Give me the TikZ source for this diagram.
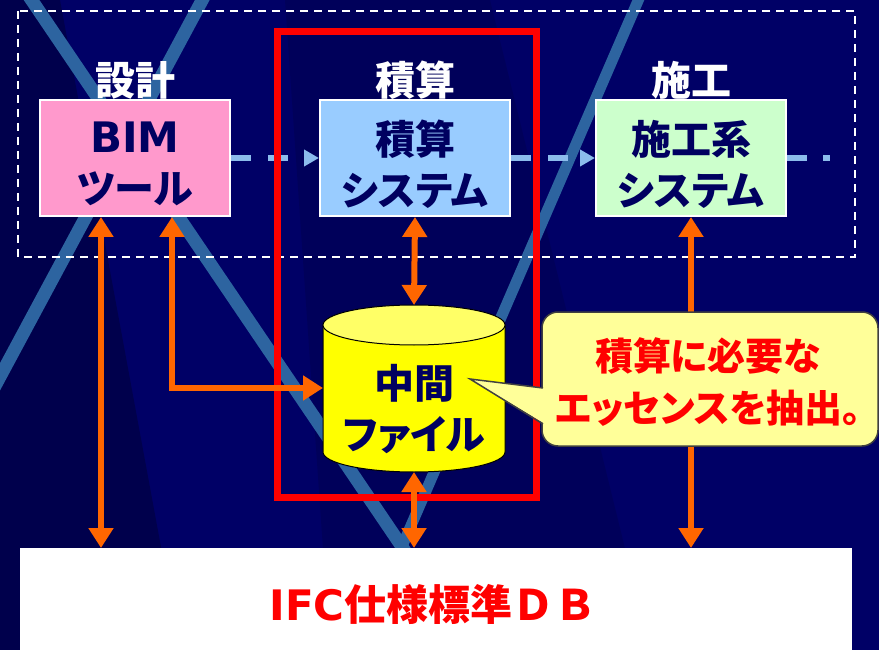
\documentclass[tikz,border=0pt]{standalone}
\usepackage{fontspec}
\setmainfont{Noto Sans CJK JP}
\newfontfamily\jpp{Noto Sans CJK JP}[RawFeature=+palt]
\newfontfamily\latf{DejaVu Sans}
\usetikzlibrary{arrows.meta}
\definecolor{bg}{HTML}{000066}
\definecolor{bgdA}{HTML}{00004C}
\definecolor{bgdB}{HTML}{00005A}
\definecolor{stripec}{HTML}{2D64A0}
\definecolor{navytxt}{HTML}{000060}
\definecolor{pinkbox}{HTML}{FF99CC}
\definecolor{bluebox}{HTML}{99CCFF}
\definecolor{greenbox}{HTML}{CCFFCC}
\definecolor{lblue}{HTML}{8CBCEC}
\definecolor{orangec}{HTML}{FF6600}
\definecolor{redc}{HTML}{FF0000}
\definecolor{cylbody}{HTML}{FFFF00}
\definecolor{cyltop}{HTML}{FFFF66}
\definecolor{callfill}{HTML}{FFFF99}
\definecolor{callline}{HTML}{404040}
\newcommand\jpbig{\jpp\bfseries\fontsize{40}{51}\selectfont}
\newcommand\jpcall{\jpp\bfseries\fontsize{38}{52}\selectfont}
\newcommand\jpdb{\bfseries\fontsize{42}{50}\selectfont}
\tikzset{
  sysbox/.style={draw=white, line width=2pt, minimum width=190pt, minimum height=116pt,
    inner sep=0pt},
  boxtxt/.style={align=center, text=navytxt, font=\jpbig, inner sep=0pt},
  hdr/.style={text=white, font=\jpbig, inner sep=0pt},
  oarrow/.style={draw=orangec, line width=6pt,
    {Triangle[width=24pt,length=20pt]}-{Triangle[width=24pt,length=20pt]}},
  barrow/.style={draw=lblue, line width=6pt, dash pattern=on 20pt off 17pt,
    -{Triangle[width=16pt,length=15pt]}},
  bline/.style={draw=lblue, line width=6pt, dash pattern=on 20pt off 16pt},
  stripe/.style={draw=stripec, line cap=butt}
}
\begin{document}
\begin{tikzpicture}[x=1pt,y=-1pt]
\useasboundingbox (0,0) rectangle (879,650);
\clip (0,0) rectangle (879,650);
% background
\fill[bg] (0,0) rectangle (879,650);
\fill[bgdA] (0,0) -- (60,0) -- (180,650) -- (0,650) -- cycle;
\fill[bgdB] (285,0) -- (490,0) -- (650,650) -- (330,650) -- cycle;
% diagonal stripes
\draw[stripe, line width=13pt] (18,-20) -- (472,650);
\draw[stripe, line width=13pt] (213,-20) -- (-20,414);
\draw[stripe, line width=11pt] (647,-20) -- (400,551);
% dashed frame
\draw[white, line width=2.5pt, dash pattern=on 8pt off 6pt] (18,11) rectangle (855,257);
% headers
\node[hdr] (h1) at (135,80) {設計};
\node[hdr] (h2) at (415,80) {積算};
\node[hdr] (h3) at (691,80) {施工};
% boxes
\node[sysbox, fill=pinkbox] (bim) at (135,158) {};
\node[sysbox, fill=bluebox] (qs) at (415,158) {};
\node[sysbox, fill=greenbox] (con) at (691,158) {};
\node[boxtxt] (bimt) at (135,164) {{\latf\fontsize{42}{51}\selectfont BIM}\\ツール};
\node[boxtxt] (qst) at (415,164) {積算\\システム};
\node[boxtxt] (cont) at (691,164) {施工系\\システム};
% blue dashed flow
\coordinate (tail) at (830,158);
\draw[barrow] (bim.east) -- (qs.west);
\draw[barrow] (qs.east) -- (con.west);
\draw[bline] (con.east) -- (tail);
% red frame
\draw[redc, line width=7pt] (277,32) rectangle (536,497);
% DB box
\node[fill=white, minimum width=832pt, minimum height=112pt, inner sep=0pt, anchor=north west] (db) at (20,548) {};
\node[text=redc, font=\jpdb, inner sep=0pt] (dbt) at (433,604) {{\latf IFC}仕様標準ＤＢ};
% cylinder
\coordinate (cylL) at (323,388);
\coordinate (cylT) at (414,305);
\coordinate (cylB) at (414,472);
\draw[black, line width=1pt, fill=cylbody] (323,325) -- (323,452)
  arc[start angle=180, end angle=360, x radius=91pt, y radius=20pt] -- (505,325) -- cycle;
\draw[black, line width=1pt, fill=cyltop] (414,325) ellipse [x radius=91pt, y radius=20pt];
\node[boxtxt] (cylt) at (414,409) {中間\\ファイル};
% orange connectors
\draw[oarrow] ([xshift=62pt]bim.south west) -- ([xshift=62pt]bim.south west |- db.north);
\draw[oarrow] ([xshift=133pt]bim.south west) |- (cylL);
\draw[oarrow] (qs.south) -- (cylT);
\draw[oarrow] (cylB) -- (cylB |- db.north);
\draw[oarrow] (con.south) -- (con.south |- db.north);
% callout
\draw[callline, line width=1.5pt, fill=callfill, rounded corners=16pt] (542,312) rectangle (878,446);
\coordinate (tip) at (470,379);
\fill[callfill] (tip) -- (545,388) -- (545,424) -- cycle;
\draw[callline, line width=1.5pt, line join=miter] (543,388) -- (tip) -- (543,424);
\node[text=redc, font=\jpcall, align=center, inner sep=0pt] (callt) at (708,382) {積算に必要な\\エッセンスを抽出。};
\end{tikzpicture}
\end{document}
